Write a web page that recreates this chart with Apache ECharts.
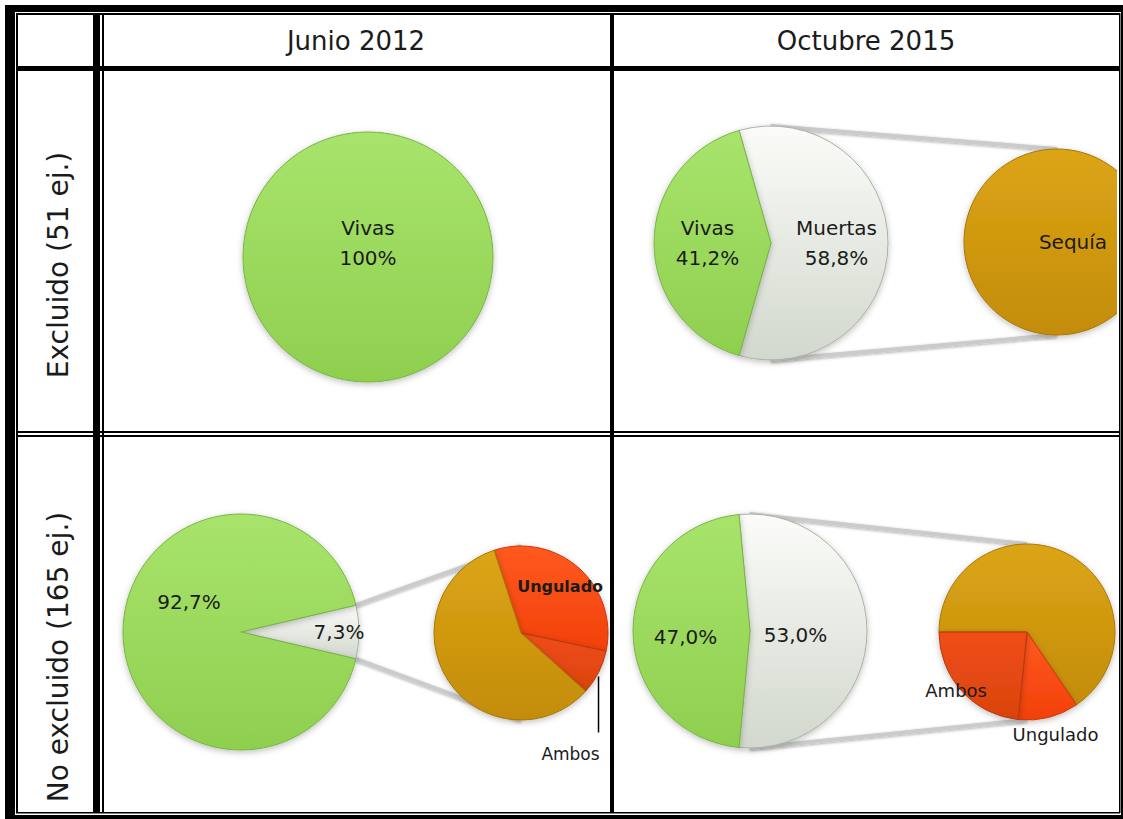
<!DOCTYPE html>
<html lang="es">
<head>
    <meta charset="UTF-8">
    <title>Plantas vivas y muertas</title>
    <script src="https://cdn.jsdelivr.net/npm/echarts@6/dist/echarts.min.js"></script>
</head>
<body style="margin:0;background:#fff">
<div id="main" style="width:1123px;height:819px"></div>
<script type="text/javascript">
    // cabeceras de la tabla
    var colLabels = ['Junio 2012', 'Octubre 2015'];
    var rowLabels = ['Excluido (51 ej.)', 'No excluido (165 ej.)'];

    // tarta principal: [Vivas, Muertas] en %
    var estadoNames = ['Vivas', 'Muertas'];
    var exclJunio = [100, 0];
    var exclOctubre = [41.2, 58.8];
    var noExclJunio = [92.7, 7.3];
    var noExclOctubre = [47.0, 53.0];

    // tarta secundaria (causa de muerte): [Sequía, Ungulado, Ambos]
    var causaNames = ['Sequía', 'Ungulado', 'Ambos'];
    var exclOctCausas = [100, 0, 0];
    var noExclJunCausas = [7, 4, 1];
    var noExclOctCausas = [65.5, 11.1, 23.4];

    var FONT = "'Comic Sans MS', 'DejaVu Sans', sans-serif";
    var TXT = '#1b1b1b';

    function grad(c1, c2) {
        return {type: 'linear', x: 0, y: 0, x2: 0, y2: 1, colorStops: [{offset: 0, color: c1}, {offset: 1, color: c2}]};
    }
    var colores = {
        'Vivas': {color: grad('#a8e46c', '#8fcf4f'), borderColor: '#79b443'},
        'Muertas': {color: grad('#fbfcf9', '#d2d8cd'), borderColor: '#a9b1a3'},
        'Sequía': {color: grad('#dca517', '#c38c08'), borderColor: '#a77706'},
        'Ungulado': {color: grad('#ff5a1f', '#f2400b'), borderColor: '#c8390c'},
        'Ambos': {color: grad('#f04e17', '#d9430e'), borderColor: '#b5380b'}
    };
    var sombra = {shadowBlur: 6, shadowColor: 'rgba(0,0,0,0.25)', shadowOffsetY: 2};

    function pct(v, dec) {
        return (dec === 0 ? String(v) : v.toFixed(1).replace('.', ',')) + '%';
    }

    function item(name, value, label, extra) {
        var it = {name: name, value: value, itemStyle: Object.assign({borderWidth: 1}, colores[name], sombra)};
        it.label = label || {show: false};
        if (extra) Object.assign(it, extra);
        return it;
    }

    function pie(center, r, startAngle, data, more) {
        return Object.assign({
            type: 'pie', center: center, radius: r, startAngle: startAngle, clockwise: true,
            silent: true, animation: false, avoidLabelOverlap: false,
            labelLine: {show: false},
            label: {position: 'inside', color: TXT, fontFamily: FONT, fontSize: 20, lineHeight: 30},
            data: data
        }, more || {});
    }

    // fraccion de muertas centrada en 0 grados (a la derecha)
    function start(muertas) { return muertas / 100 * 180; }

    var series = [];

    // Excluido, junio 2012
    series.push(pie([368, 257], 125, 90, [
        item('Vivas', exclJunio[0], {show: true, position: 'center', offset: [0, -14],
            formatter: estadoNames[0] + '\n' + pct(exclJunio[0], 0)})
    ]));

    // Excluido, octubre 2015
    var trMain = {c: [771, 243], r: 117}, trSec = {c: [1057, 242], r: 93};
    series.push(pie(trMain.c, trMain.r, start(exclOctubre[1]), [
        item('Muertas', exclOctubre[1], {show: true, formatter: estadoNames[1] + '\n' + pct(exclOctubre[1]), offset: [4, 0]}),
        item('Vivas', exclOctubre[0], {show: true, formatter: estadoNames[0] + '\n' + pct(exclOctubre[0]), offset: [-2, 0]})
    ]));
    series.push(pie(trSec.c, trSec.r, 90, [
        item('Sequía', exclOctCausas[0], {show: true, position: 'center', offset: [16, 0], formatter: causaNames[0]})
    ]));

    // No excluido, junio 2012
    var blMain = {c: [241, 632], r: 118}, blSec = {c: [521, 633], r: 87};
    series.push(pie(blMain.c, blMain.r, start(noExclJunio[1]), [
        item('Muertas', noExclJunio[1], {show: true, formatter: pct(noExclJunio[1]), offset: [36, 0]}),
        item('Vivas', noExclJunio[0], {show: true, formatter: pct(noExclJunio[0]), offset: [10, -30]})
    ]));
    series.push(pie(blSec.c, blSec.r, 108, [
        item('Ungulado', noExclJunCausas[1], {show: true, formatter: causaNames[1], fontSize: 16, fontWeight: 'bold', offset: [8, -12]}),
        item('Ambos', noExclJunCausas[2], {show: true, position: 'outside', formatter: causaNames[2], fontSize: 17},
            {labelLine: {show: true, lineStyle: {color: '#000', width: 1.5}}}),
        item('Sequía', noExclJunCausas[0])
    ], {
        labelLayout: function (p) {
            if (p.dataIndex !== 1 || !p.labelLinePoints) return {};
            var s = p.labelLinePoints[0];
            return {
                x: s[0] - 28, y: s[1] + 82, align: 'center', verticalAlign: 'middle',
                labelLinePoints: [[s[0], s[1] + 4], [s[0], s[1] + 60], [s[0], s[1] + 60]]
            };
        }
    }));

    // No excluido, octubre 2015
    var brMain = {c: [750, 631], r: 117}, brSec = {c: [1027, 632], r: 88};
    series.push(pie(brMain.c, brMain.r, start(noExclOctubre[1]), [
        item('Muertas', noExclOctubre[1], {show: true, formatter: pct(noExclOctubre[1]), offset: [-16, 4]}),
        item('Vivas', noExclOctubre[0], {show: true, formatter: pct(noExclOctubre[0]), offset: [-3, 6]})
    ]));
    series.push(pie(brSec.c, brSec.r, 180, [
        item('Sequía', noExclOctCausas[0]),
        item('Ungulado', noExclOctCausas[1], {show: true, formatter: causaNames[1], fontSize: 18, offset: [17, 57]}),
        item('Ambos', noExclOctCausas[2], {show: true, formatter: causaNames[2], fontSize: 18, offset: [-36, 27]})
    ]));

    // lineas que unen la porcion "Muertas" con la tarta secundaria
    function conectores(m, s, muertas) {
        var a = Math.min(muertas / 100 * Math.PI, Math.PI / 2);
        var x = m.c[0] + m.r * Math.cos(a), dy = m.r * Math.sin(a);
        var st = {stroke: '#cbcbcb', lineWidth: 4, shadowBlur: 3, shadowColor: 'rgba(0,0,0,0.35)', shadowOffsetY: 1};
        return [
            {type: 'line', z: 0, shape: {x1: x, y1: m.c[1] - dy, x2: s.c[0], y2: s.c[1] - s.r}, style: st},
            {type: 'line', z: 0, shape: {x1: x, y1: m.c[1] + dy, x2: s.c[0], y2: s.c[1] + s.r}, style: st}
        ];
    }

    // marco de la tabla
    var lineas = [
        [5, 5, 10, 814], [5, 5, 1118, 7], [1121, 5, 2, 814], [5, 815, 1118, 4],
        [16, 13, 2, 800], [16, 13, 1104, 2], [1119, 13, 1.5, 800], [16, 812, 1104, 1.5],
        [93, 13, 7, 800], [102, 13, 2, 800], [610, 13, 4, 800],
        [16, 66, 1104, 5], [16, 431, 1104, 2], [16, 435, 1104, 2]
    ];
    var graficos = [].concat(
        conectores(trMain, trSec, exclOctubre[1]),
        conectores(blMain, blSec, noExclJunio[1]),
        conectores(brMain, brSec, noExclOctubre[1])
    );
    // tapa lo que sale de la celda por la derecha
    graficos.push({type: 'rect', z: 99, shape: {x: 1117, y: 71, width: 6, height: 362}, style: {fill: '#fff'}});
    lineas.forEach(function (l) {
        graficos.push({type: 'rect', z: 100, shape: {x: l[0], y: l[1], width: l[2], height: l[3]}, style: {fill: '#000'}});
    });
    // textos de cabecera
    var colX = [356, 866], rowY = [265, 657];
    colLabels.forEach(function (t, i) {
        graficos.push({type: 'text', z: 100, x: colX[i], y: 41,
            style: {text: t, fill: TXT, fontFamily: FONT, fontSize: 26, align: 'center', verticalAlign: 'middle'}});
    });
    rowLabels.forEach(function (t, i) {
        graficos.push({type: 'text', z: 100, x: 58, y: rowY[i], rotation: Math.PI / 2,
            style: {text: t, fill: TXT, fontFamily: FONT, fontSize: 28, align: 'center', verticalAlign: 'middle'}});
    });

    var myChart = echarts.init(document.getElementById('main'), null, {renderer: 'svg'});
    myChart.setOption({
        backgroundColor: '#fff',
        animation: false,
        graphic: {elements: graficos},
        series: series
    });
</script>
</body>
</html>
